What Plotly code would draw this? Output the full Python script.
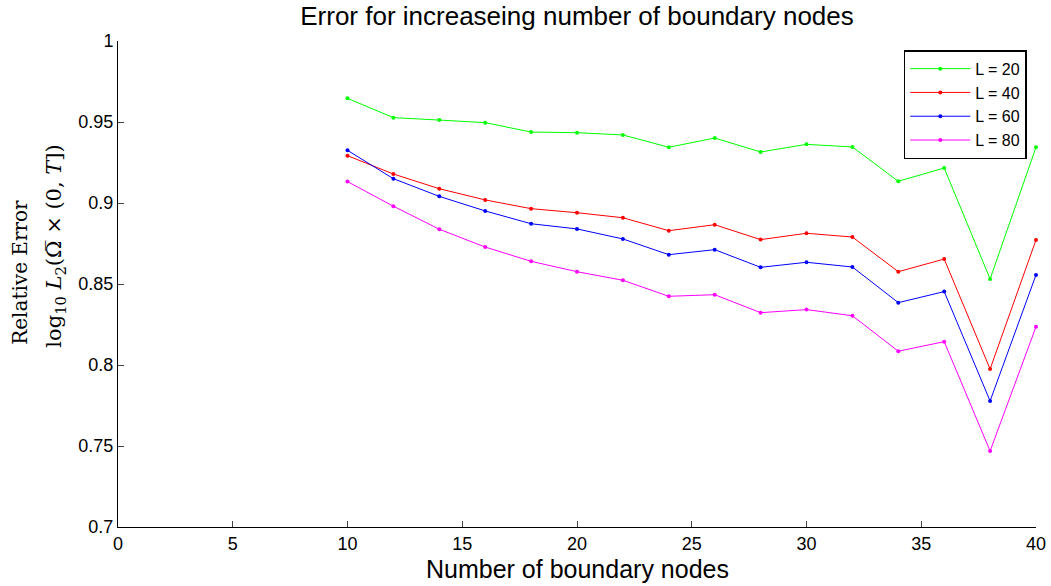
import plotly.graph_objects as go

x_nodes = [10, 12, 14, 16, 18, 20, 22, 24, 26, 28, 30, 32, 34, 36, 38, 40]
err_L20 = [0.9646, 0.9527, 0.9512, 0.9496, 0.9438, 0.9434, 0.9420, 0.9344,
           0.9401, 0.9315, 0.9362, 0.9346, 0.9134, 0.9216, 0.8531, 0.9344]
err_L40 = [0.9292, 0.9179, 0.9088, 0.9019, 0.8965, 0.8940, 0.8909, 0.8829,
           0.8866, 0.8774, 0.8813, 0.8790, 0.8576, 0.8654, 0.7975, 0.8772]
err_L60 = [0.9325, 0.9150, 0.9041, 0.8951, 0.8872, 0.8840, 0.8778, 0.8681,
           0.8712, 0.8603, 0.8634, 0.8605, 0.8385, 0.8453, 0.7778, 0.8556]
err_L80 = [0.9132, 0.8980, 0.8838, 0.8728, 0.8640, 0.8576, 0.8523, 0.8424,
           0.8434, 0.8323, 0.8342, 0.8304, 0.8085, 0.8144, 0.7469, 0.8236]
series_names = ["L = 20", "L = 40", "L = 60", "L = 80"]
series_colors = ["#00FF00", "#FF0000", "#0000FF", "#FF00FF"]
x_ticks = [0, 5, 10, 15, 20, 25, 30, 35, 40]
y_ticks = [0.7, 0.75, 0.8, 0.85, 0.9, 0.95, 1.0]
y_tick_labels = ["0.7", "0.75", "0.8", "0.85", "0.9", "0.95", "1"]
x_title = "Number of boundary nodes"
y_title_lines = ["Relative Error",
                 "log<sub>10</sub> <i>L</i><sub>2</sub>(Ω\u0305 × (0, <i>T</i>])"]

W, H = 1051, 586
ML, MR, MT, MB = 118, 15, 41, 59

fig = go.Figure()
for name, ys, col in zip(series_names, [err_L20, err_L40, err_L60, err_L80], series_colors):
    fig.add_trace(go.Scatter(
        x=x_nodes, y=ys, name=name, mode="lines+markers",
        line=dict(color=col, width=1),
        marker=dict(color=col, size=4, symbol="circle"),
        cliponaxis=False,
    ))

serif = "DejaVu Serif, Liberation Serif, serif"
fig.add_annotation(text=y_title_lines[0], xref="paper", yref="paper",
                   x=-0.1068, y=0.525, xanchor="center", yanchor="middle",
                   textangle=-90, showarrow=False, font=dict(size=20, family=serif))
fig.add_annotation(text=y_title_lines[1], xref="paper", yref="paper",
                   x=-0.068, y=0.578, xanchor="center", yanchor="middle",
                   textangle=-90, showarrow=False, font=dict(size=21, family=serif))
fig.add_annotation(text=x_title, xref="paper", yref="paper",
                   x=0.5, y=-0.0864, xanchor="center", yanchor="middle",
                   showarrow=False, font=dict(size=25))

fig.update_layout(
    width=W, height=H,
    margin=dict(l=ML, r=MR, t=MT, b=MB, autoexpand=False),
    paper_bgcolor="white", plot_bgcolor="white",
    font=dict(family="Liberation Sans, Arial, sans-serif", color="black"),
    title=dict(text="Error for increaseing number of boundary nodes",
               x=(ML + (W - ML - MR) / 2) / W, xanchor="center", y=1 - 7 / H, yanchor="top",
               font=dict(size=26, family="Liberation Sans, Arial, sans-serif")),
    showlegend=True,
    legend=dict(x=0.990, y=0.981, xanchor="right", yanchor="top",
                bgcolor="white", bordercolor="black", borderwidth=1.5,
                font=dict(size=16), tracegroupgap=0, itemwidth=60),
    xaxis=dict(range=[0, 40], tickvals=x_ticks, ticks="inside", ticklen=6,
               showline=True, linecolor="black", linewidth=1, showgrid=False,
               zeroline=False, tickfont=dict(size=18), mirror=False, automargin=False,
               ticklabeloverflow="allow"),
    yaxis=dict(range=[0.7, 1.0], tickvals=y_ticks, ticktext=y_tick_labels,
               ticks="inside", ticklen=6, showline=True, linecolor="black", linewidth=1,
               showgrid=False, zeroline=False, tickfont=dict(size=18), automargin=False,
               ticklabeloverflow="allow"),
)

# remove the default 8px page margin so the figure fills the window exactly
fig.write_html("out.html",
               config={"displayModeBar": False},
               post_script="document.body.style.margin='0';document.body.style.overflow='hidden';")
